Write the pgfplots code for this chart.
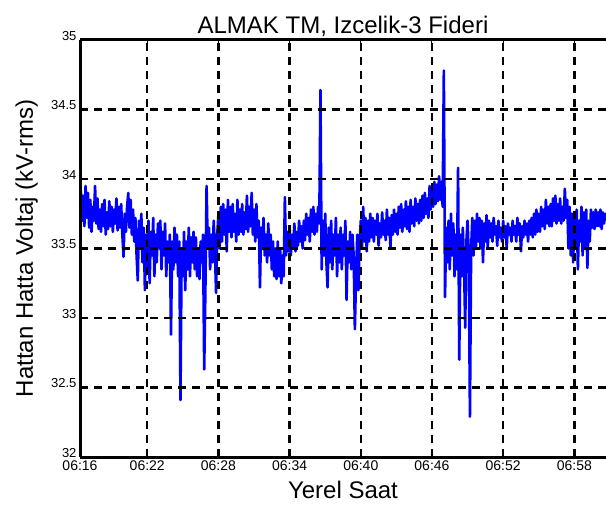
\documentclass[border=0pt]{standalone}
\usepackage{pgfplots}
\pgfplotsset{compat=1.18}
\usepackage{fontspec}
\setmainfont{Liberation Sans}
\usetikzlibrary{calc}
\begin{document}
\begin{tikzpicture}
\begin{axis}[
 name=ax,
 width=526pt, height=417pt, scale only axis,
 xmin=16.33, xmax=60.67, ymin=32, ymax=35,
 xtick={16.33,22,28,34,40,46,52,58},
 xticklabels={06:16,06:22,06:28,06:34,06:40,06:46,06:52,06:58},
 ytick={32,32.5,33,33.5,34,34.5,35},
 axis y line*=left,
 ytick pos=left,
 grid=major,
 major grid style={black, line width=2.4pt, dash pattern=on 8pt off 6pt},
 axis line style={black, line width=3pt},
 tick style={black, line width=1pt},
 major tick length=5pt,
 tick align=inside,
 axis on top,
 /pgf/number format/assume math mode=true,
 xticklabel style={font=\fontsize{14}{16}\selectfont},
 yticklabel style={font=\fontsize{13}{15}\selectfont, yshift=4pt},
]
\addplot[blue, line width=2.6pt, line join=round] coordinates {
(16.33,33.85) (16.4,33.92) (16.5,33.7) (16.6,33.88) (16.7,33.66) (16.8,33.95) (16.9,33.72)
(17.0,33.9) (17.1,33.65) (17.2,33.85) (17.3,33.62) (17.4,33.8) (17.5,33.7) (17.6,33.95) (17.7,33.68) (17.8,33.86) (17.9,33.64)
(18.0,33.78) (18.1,33.62) (18.2,33.82) (18.3,33.66) (18.4,33.85) (18.5,33.6) (18.6,33.76) (18.7,33.64) (18.8,33.84) (18.9,33.66)
(19.0,33.8) (19.1,33.62) (19.2,33.78) (19.3,33.68) (19.4,33.86) (19.5,33.63) (19.6,33.8) (19.7,33.65) (19.8,33.82) (19.9,33.6)
(20.0,33.44) (20.1,33.75) (20.2,33.62) (20.3,33.8) (20.4,33.9) (20.5,33.65) (20.6,33.85) (20.7,33.6) (20.8,33.78) (20.9,33.55)
(21.0,33.72) (21.1,33.45) (21.2,33.27) (21.3,33.7) (21.4,33.5) (21.5,33.75) (21.6,33.4) (21.7,33.65) (21.8,33.2) (21.9,33.6)
(22.0,33.35) (22.1,33.7) (22.2,33.25) (22.3,33.62) (22.4,33.45) (22.5,33.72) (22.6,33.3) (22.7,33.6) (22.8,33.4) (22.9,33.68)
(23.0,33.5) (23.1,33.7) (23.2,33.35) (23.3,33.62) (23.4,33.45) (23.5,33.68) (23.6,33.3) (23.7,33.55) (23.8,33.4) (23.9,33.6)
(24.0,32.88) (24.1,33.55) (24.2,33.35) (24.3,33.65) (24.4,33.4) (24.5,33.6) (24.6,33.3) (24.7,33.55) (24.8,32.41) (24.9,33.5)
(25.0,33.3) (25.1,33.62) (25.2,33.2) (25.3,33.55) (25.4,33.35) (25.5,33.65) (25.6,33.3) (25.7,33.58) (25.8,33.4) (25.9,33.62)
(26.0,33.35) (26.1,33.58) (26.2,33.3) (26.3,33.5) (26.4,33.28) (26.5,33.55) (26.6,33.4) (26.7,33.6) (26.8,32.63) (26.9,33.2)
(27.0,33.95) (27.1,33.5) (27.2,33.65) (27.3,33.35) (27.4,33.6) (27.5,33.4) (27.6,33.7) (27.7,33.5) (27.8,33.18) (27.9,33.6)
(28.0,33.75) (28.1,33.5) (28.2,33.8) (28.3,33.55) (28.4,33.82) (28.5,33.6) (28.6,33.78) (28.7,33.48) (28.8,33.85) (28.9,33.62)
(29.0,33.8) (29.1,33.58) (29.2,33.82) (29.3,33.62) (29.4,33.75) (29.5,33.55) (29.6,33.85) (29.7,33.6) (29.8,33.78) (29.9,33.62)
(30.0,33.82) (30.1,33.6) (30.2,33.76) (30.3,33.64) (30.4,33.88) (30.5,33.62) (30.6,33.8) (30.7,33.66) (30.8,33.9) (30.9,33.6)
(31.0,33.78) (31.1,33.55) (31.2,33.82) (31.3,33.58) (31.4,33.7) (31.5,33.22) (31.6,33.65) (31.7,33.5) (31.8,33.72) (31.9,33.45)
(32.0,33.6) (32.1,33.4) (32.2,33.68) (32.3,33.45) (32.4,33.6) (32.5,33.35) (32.6,33.55) (32.7,33.3) (32.8,33.5) (32.9,33.28)
(33.0,33.55) (33.1,33.3) (33.2,33.5) (33.3,33.25) (33.4,33.45) (33.5,33.3) (33.6,33.87) (33.7,33.45) (33.8,33.62) (33.9,33.48)
(34.0,33.65) (34.1,33.45) (34.2,33.6) (34.3,33.5) (34.4,33.68) (34.5,33.48) (34.6,33.62) (34.7,33.52) (34.8,33.7) (34.9,33.55)
(35.0,33.66) (35.1,33.5) (35.2,33.7) (35.3,33.56) (35.4,33.75) (35.5,33.6) (35.6,33.72) (35.7,33.55) (35.8,33.78) (35.9,33.62)
(36.0,33.8) (36.1,33.6) (36.2,33.75) (36.3,33.62) (36.4,33.8) (36.5,33.68) (36.6,34.64) (36.7,33.35) (36.8,33.7) (36.9,33.45)
(37.0,33.75) (37.1,33.4) (37.2,33.22) (37.3,33.65) (37.4,33.4) (37.5,33.7) (37.6,33.35) (37.7,33.6) (37.8,33.45) (37.9,33.72)
(38.0,33.3) (38.1,33.6) (38.2,33.4) (38.3,33.65) (38.4,33.35) (38.5,33.6) (38.6,33.45) (38.7,33.7) (38.8,33.13) (38.9,33.55)
(39.0,33.4) (39.1,33.62) (39.2,33.35) (39.3,33.6) (39.4,33.45) (39.5,32.92) (39.6,33.3) (39.7,33.6) (39.8,33.2) (39.9,33.55)
(40.0,33.7) (40.1,33.5) (40.2,33.8) (40.3,33.55) (40.4,33.72) (40.5,33.48) (40.6,33.7) (40.7,33.55) (40.8,33.75) (40.9,33.58)
(41.0,33.72) (41.1,33.55) (41.2,33.7) (41.3,33.6) (41.4,33.75) (41.5,33.52) (41.6,33.68) (41.7,33.58) (41.8,33.76) (41.9,33.6)
(42.0,33.7) (42.1,33.56) (42.2,33.78) (42.3,33.6) (42.4,33.72) (42.5,33.5) (42.6,33.74) (42.7,33.6) (42.8,33.78) (42.9,33.62)
(43.0,33.75) (43.1,33.6) (43.2,33.8) (43.3,33.65) (43.4,33.82) (43.5,33.62) (43.6,33.78) (43.7,33.66) (43.8,33.84) (43.9,33.64)
(44.0,33.8) (44.1,33.62) (44.2,33.85) (44.3,33.68) (44.4,33.8) (44.5,33.66) (44.6,33.86) (44.7,33.7) (44.8,33.82) (44.9,33.68)
(45.0,33.85) (45.1,33.7) (45.2,33.88) (45.3,33.72) (45.4,33.9) (45.5,33.75) (45.6,33.86) (45.7,33.72) (45.8,33.95) (45.9,33.78)
(46.0,33.92) (46.1,33.8) (46.2,33.98) (46.3,33.82) (46.4,33.96) (46.5,33.84) (46.6,34.02) (46.7,33.85) (46.8,33.98) (46.9,33.8)
(47.0,34.78) (47.1,33.15) (47.2,33.65) (47.3,33.4) (47.4,33.7) (47.5,33.35) (47.6,33.75) (47.7,33.45) (47.8,33.68) (47.9,33.3)
(48.0,33.6) (48.1,33.35) (48.2,34.08) (48.3,32.7) (48.4,33.6) (48.5,33.3) (48.6,33.65) (48.7,33.4) (48.8,32.93) (48.9,33.55)
(49.0,33.7) (49.1,33.45) (49.2,32.29) (49.3,33.5) (49.4,33.72) (49.5,33.45) (49.6,33.7) (49.7,33.5) (49.8,33.75) (49.9,33.55)
(50.0,33.72) (50.1,33.5) (50.2,33.7) (50.3,33.4) (50.4,33.68) (50.5,33.55) (50.6,33.74) (50.7,33.5) (50.8,33.7) (50.9,33.58)
(51.0,33.68) (51.1,33.55) (51.2,33.72) (51.3,33.6) (51.4,33.66) (51.5,33.52) (51.6,33.7) (51.7,33.58) (51.8,33.65) (51.9,33.55)
(52.0,33.7) (52.1,33.58) (52.2,33.66) (52.3,33.5) (52.4,33.68) (52.5,33.6) (52.6,33.65) (52.7,33.55) (52.8,33.7) (52.9,33.6)
(53.0,33.66) (53.1,33.55) (53.2,33.72) (53.3,33.6) (53.4,33.68) (53.5,33.48) (53.6,33.66) (53.7,33.58) (53.8,33.7) (53.9,33.6)
(54.0,33.68) (54.1,33.55) (54.2,33.7) (54.3,33.6) (54.4,33.72) (54.5,33.58) (54.6,33.75) (54.7,33.6) (54.8,33.78) (54.9,33.62)
(55.0,33.75) (55.1,33.62) (55.2,33.8) (55.3,33.66) (55.4,33.78) (55.5,33.64) (55.6,33.85) (55.7,33.68) (55.8,33.8) (55.9,33.66)
(56.0,33.82) (56.1,33.66) (56.2,33.86) (56.3,33.7) (56.4,33.88) (56.5,33.68) (56.6,33.82) (56.7,33.7) (56.8,33.86) (56.9,33.68)
(57.0,33.8) (57.1,33.7) (57.2,33.93) (57.3,33.72) (57.4,33.85) (57.5,33.5) (57.6,33.8) (57.7,33.45) (57.8,33.75) (57.9,33.4)
(58.0,33.72) (58.1,33.5) (58.2,33.78) (58.3,33.35) (58.4,33.7) (58.5,33.55) (58.6,33.8) (58.7,33.45) (58.8,33.76) (58.9,33.5)
(59.0,33.78) (59.1,33.36) (59.2,33.7) (59.3,33.55) (59.4,33.78) (59.5,33.65) (59.6,33.76) (59.7,33.64) (59.8,33.78) (59.9,33.66)
(60.0,33.76) (60.1,33.66) (60.2,33.78) (60.3,33.64) (60.4,33.76) (60.5,33.68) (60.6,33.75) (60.67,33.7)
};
\end{axis}
\node[anchor=base, font=\fontsize{24}{28}\selectfont] at ($(ax.north)+(0,6pt)$) {ALMAK TM, Izcelik-3 Fideri};
\node[anchor=base, font=\fontsize{24}{28}\selectfont] at ($(ax.south)+(0,-41pt)$) {Yerel Saat};
\node[anchor=base, rotate=90, font=\fontsize{24}{28}\selectfont] at ($(ax.west)+(-47pt,0)$) {Hattan Hatta Voltaj (kV-rms)};
\pgfresetboundingbox
\path[use as bounding box] ($(ax.south west)+(-80pt,-59pt)$) rectangle ($(ax.north east)+(0,40pt)$);
\end{tikzpicture}
\end{document}
